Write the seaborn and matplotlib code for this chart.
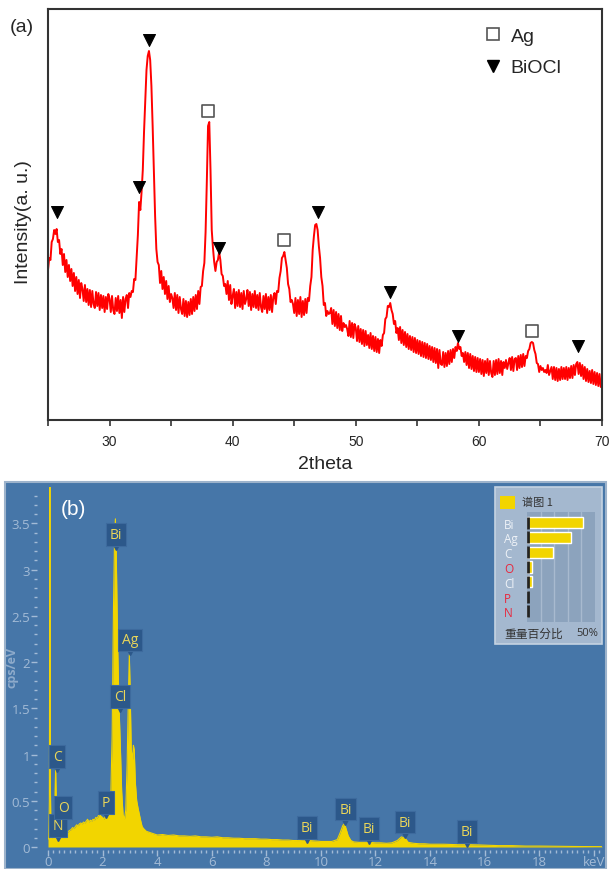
import numpy as np
import pandas as pd
import matplotlib
matplotlib.use('Agg')
import matplotlib.pyplot as plt
import matplotlib.transforms as mtransforms
from matplotlib.patches import Rectangle
from matplotlib.lines import Line2D
import seaborn as sns

# ---- (a) XRD pattern: 0.1 deg steps starting at 25 deg, one row per degree
xrd_start = 25.0
xrd_step = 0.1
xrd_rows = [
    [150, 162, 160, 178, 181, 190, 186, 191, 178, 180],  # 25
    [166, 171, 155, 166, 148, 160, 143, 155, 139, 151],  # 26
    [134, 147, 129, 143, 126, 140, 122, 137, 131, 119],  # 27
    [135, 118, 131, 115, 130, 113, 129, 116, 112, 128],  # 28
    [114, 127, 110, 125, 112, 124, 108, 123, 111, 126],  # 29
    [121, 108, 124, 110, 106, 122, 109, 124, 107, 120],  # 30
    [102, 123, 108, 121, 125, 112, 127, 123, 129, 128],  # 31
    [141, 140, 163, 185, 218, 210, 228, 250, 288, 320],  # 32
    [350, 364, 369, 360, 334, 294, 248, 204, 171, 158],  # 33
    [155, 137, 149, 131, 143, 126, 139, 121, 134, 118],  # 34
    [126, 122, 112, 127, 110, 125, 107, 123, 111, 106],  # 35
    [121, 104, 119, 103, 118, 105, 121, 106, 123, 109],  # 36
    [125, 111, 129, 116, 133, 134, 149, 157, 188, 238],  # 37
    [294, 298, 250, 190, 172, 158, 149, 158, 160, 168],  # 38
    [160, 146, 144, 134, 136, 126, 139, 120, 135, 116],  # 39
    [124, 131, 112, 128, 114, 130, 113, 127, 111, 129],  # 40
    [116, 121, 130, 114, 128, 110, 126, 113, 129, 112],  # 41
    [125, 110, 127, 113, 108, 124, 111, 126, 107, 123],  # 42
    [110, 125, 108, 123, 127, 116, 129, 128, 142, 149],  # 43
    [162, 164, 168, 160, 152, 136, 131, 118, 120, 116],  # 44
    [107, 122, 104, 120, 106, 123, 103, 119, 105, 121],  # 45
    [107, 122, 119, 134, 143, 170, 184, 195, 196, 190],  # 46
    [174, 162, 143, 134, 115, 117, 104, 109, 106, 107],  # 47
    [112, 96, 110, 94, 108, 92, 106, 90, 104, 89],       # 48
    [97, 93, 95, 91, 84, 99, 83, 97, 82, 96],            # 49
    [92, 79, 94, 78, 91, 76, 90, 74, 89, 75],            # 50
    [85, 72, 87, 71, 84, 69, 83, 68, 81, 67],            # 51
    [80, 74, 85, 87, 101, 103, 114, 113, 117, 110],      # 52
    [106, 96, 99, 87, 92, 80, 93, 77, 90, 75],           # 53
    [88, 73, 86, 71, 84, 70, 83, 68, 82, 67],            # 54
    [80, 66, 79, 64, 78, 63, 77, 62, 76, 61],            # 55
    [74, 60, 73, 58, 72, 57, 71, 52, 70, 56],            # 56
    [55, 68, 53, 67, 54, 69, 56, 70, 58, 71],            # 57
    [62, 73, 69, 77, 71, 73, 64, 67, 58, 68],            # 58
    [55, 67, 52, 66, 51, 64, 49, 63, 48, 62],            # 59
    [48, 61, 46, 60, 44, 59, 47, 61, 45, 59],            # 60
    [47, 43, 59, 45, 60, 46, 61, 47, 59, 45],            # 61
    [58, 52, 60, 51, 57, 62, 50, 63, 49, 61],            # 62
    [62, 50, 64, 52, 65, 53, 66, 54, 64, 62],            # 63
    [69, 71, 77, 78, 77, 70, 66, 57, 56, 48],            # 64
    [54, 50, 52, 48, 50, 47, 55, 45, 49, 53],            # 65
    [41, 53, 40, 52, 39, 51, 40, 53, 41, 52],            # 66
    [41, 53, 40, 52, 42, 54, 42, 55, 45, 56],            # 67
    [58, 46, 57, 44, 55, 41, 53, 39, 51, 38],            # 68
    [49, 37, 50, 36, 48, 35, 47, 34, 46, 33],            # 69
]
xrd_last = [38]  # 70.0

biocl_pos = [25.7, 32.4, 33.2, 38.9, 46.95, 52.75, 58.3, 68.05]
biocl_mark = [208, 233, 380, 172, 208, 128, 84, 74]
ag_pos = [38.0, 44.2, 64.35]
ag_mark = [309, 180, 89]

# ---- (b) EDS spectrum
eds_energy = [0.00, 0.03, 0.05, 0.06, 0.07, 0.08, 0.09, 0.11, 0.15, 0.20,
              0.24, 0.26, 0.28, 0.30, 0.32, 0.36, 0.40, 0.45, 0.50, 0.55,
              0.60, 0.65, 0.70, 0.75, 0.80, 0.85, 0.90, 0.95, 1.00, 1.05,
              1.10, 1.15, 1.20, 1.25, 1.30, 1.35, 1.40, 1.45, 1.50, 1.55,
              1.60, 1.65, 1.70, 1.75, 1.80, 1.85, 1.90, 1.95, 2.00, 2.05,
              2.10, 2.15, 2.20, 2.25, 2.30, 2.35, 2.40, 2.44, 2.47, 2.50,
              2.55, 2.60, 2.65, 2.70, 2.75, 2.80, 2.85, 2.90, 2.95, 2.98,
              3.01, 3.05, 3.10, 3.13, 3.16, 3.20, 3.25, 3.30, 3.35, 3.40,
              3.45, 3.50, 3.60, 3.70, 3.80, 3.90, 4.00, 4.20, 4.40, 4.60,
              4.80, 5.00, 5.20, 5.40, 5.60, 5.80, 6.00, 6.20, 6.40, 6.60,
              6.80, 7.00, 7.20, 7.40, 7.60, 7.80, 8.00, 8.20, 8.40, 8.60,
              8.80, 9.00, 9.20, 9.40, 9.60, 9.80, 10.00, 10.20, 10.40, 10.60,
              10.70, 10.80, 10.85, 10.90, 11.00, 11.10, 11.20, 11.40, 11.60, 11.80,
              12.00, 12.20, 12.40, 12.60, 12.80, 12.95, 13.10, 13.20, 13.40, 13.60,
              13.80, 14.00, 14.50, 15.00, 15.50, 16.00, 16.50, 17.00, 17.50, 18.00,
              18.50, 19.00, 19.50, 20.00, 20.30]
eds_cps = [0.08, 0.10, 0.50, 2.50, 3.95, 2.40, 0.60, 0.12, 0.10, 0.11,
           0.20, 0.60, 0.85, 0.55, 0.18, 0.10, 0.09, 0.10, 0.11, 0.12,
           0.11, 0.13, 0.15, 0.17, 0.18, 0.19, 0.21, 0.20, 0.22, 0.24,
           0.23, 0.25, 0.26, 0.25, 0.27, 0.26, 0.28, 0.30, 0.27, 0.29,
           0.28, 0.30, 0.29, 0.32, 0.31, 0.34, 0.35, 0.33, 0.32, 0.30,
           0.33, 0.36, 0.35, 0.40, 0.55, 1.20, 2.60, 3.35, 3.55, 3.20,
           2.20, 1.55, 1.10, 0.60, 0.35, 0.30, 0.40, 0.90, 1.70, 2.08,
           1.70, 1.05, 0.95, 1.10, 1.05, 0.70, 0.50, 0.42, 0.35, 0.28,
           0.22, 0.20, 0.17, 0.16, 0.15, 0.14, 0.13, 0.135, 0.125, 0.13,
           0.12, 0.12, 0.115, 0.12, 0.11, 0.11, 0.105, 0.11, 0.10, 0.10,
           0.095, 0.095, 0.09, 0.09, 0.09, 0.085, 0.085, 0.08, 0.08, 0.075,
           0.075, 0.07, 0.07, 0.075, 0.07, 0.065, 0.06, 0.06, 0.06, 0.08,
           0.15, 0.23, 0.25, 0.22, 0.12, 0.07, 0.055, 0.05, 0.05, 0.05,
           0.045, 0.045, 0.04, 0.045, 0.07, 0.11, 0.09, 0.05, 0.04, 0.035,
           0.035, 0.03, 0.03, 0.025, 0.025, 0.02, 0.015, 0.015, 0.01, 0.01,
           0.008, 0.006, 0.005, 0.004, 0.004]

tag_labels = ['C', 'N', 'O', 'P', 'Bi', 'Cl', 'Ag', 'Bi', 'Bi', 'Bi', 'Bi', 'Bi']
tag_energy = [0.33, 0.37, 0.55, 2.12, 2.49, 2.64, 3.00, 9.49, 10.90, 11.76, 13.08, 15.35]
tag_cps = [0.98, 0.23, 0.43, 0.48, 3.38, 1.63, 2.24, 0.215, 0.41, 0.20, 0.27, 0.17]

comp_elements = ['Bi', 'Ag', 'C', 'O', 'Cl', 'P', 'N']
comp_wt = [41, 32, 19, 3.4, 3.4, 0, 0]
comp_label_colors = ['#eef2f7', '#eef2f7', '#eef2f7', '#e8263c', '#eef2f7', '#e8263c', '#e8263c']

sns.set_style('ticks')
plt.rcParams['font.family'] = ['Liberation Sans', 'Noto Sans CJK SC', 'DejaVu Sans']

W, H = 611, 870
fig = plt.figure(figsize=(W / 100, H / 100), dpi=100)


def fbox(x0, y0, x1, y1):
    # pixel box (top-left origin) -> figure fraction rect
    return [x0 / W, 1 - y1 / H, (x1 - x0) / W, (y1 - y0) / H]


# ================= (a) =================
ax1 = fig.add_axes(fbox(48, 10, 602, 421))
counts = [v for row in xrd_rows for v in row] + xrd_last
xrd = pd.DataFrame({'two_theta': xrd_start + xrd_step * np.arange(len(counts)),
                    'intensity': counts})
sns.lineplot(data=xrd, x='two_theta', y='intensity', color='#ff0000', lw=1.4, ax=ax1)
sns.scatterplot(x=biocl_pos, y=biocl_mark, marker='v', s=75, color='black',
                edgecolor='black', ax=ax1, zorder=5)
sns.scatterplot(x=ag_pos, y=ag_mark, marker='s', s=85, color='white',
                edgecolor='#555555', linewidth=1.2, ax=ax1, zorder=5)

ax1.set_xlim(25, 70)
ax1.set_ylim(0, 411)
ax1.set_yticks([])
ax1.set_xticks([30, 40, 50, 60, 70])
ax1.set_xticks([25, 35, 45, 55, 65], minor=True)
ax1.tick_params(axis='x', which='both', direction='out', length=4, width=1.2,
                color='#333333', labelsize=10, pad=6)
for sp in ax1.spines.values():
    sp.set_visible(True)
    sp.set_color('#333333')
    sp.set_linewidth(1.5)
ax1.set_xlabel('2theta', fontsize=14, labelpad=5)
ax1.set_ylabel('Intensity(a. u.)', fontsize=14)
ax1.yaxis.set_label_coords(-0.029, 0.484)

handles = [Line2D([], [], marker='s', ls='', mfc='white', mec='#555555', mew=1.2, ms=9),
           Line2D([], [], marker='v', ls='', color='black', ms=9)]
ax1.legend(handles, ['Ag', 'BiOCl'], loc='upper left', bbox_to_anchor=(0.786, 0.955),
           frameon=False, fontsize=14, handletextpad=0.4, handlelength=1,
           labelspacing=0.7, borderpad=0, borderaxespad=0)
fig.text(22 / W, 1 - 28 / H, '(a)', fontsize=14, ha='center', va='center')

# ================= (b) =================
bg = Rectangle((5 / W, 0), 601 / W, 387 / H, transform=fig.transFigure,
               fc='#4676a8', ec='#9db3cb', lw=1.5, zorder=-1)
fig.add_artist(bg)

pale = '#a3bbd6'
ax2 = fig.add_axes([48 / W, 22 / H, 554 / W, 360.5 / H])
ax2.patch.set_alpha(0)
sns.lineplot(x=eds_energy, y=eds_cps, sort=False, color='#f2d500', lw=0.8, ax=ax2)
ax2.fill_between(eds_energy, eds_cps, color='#f2d500', lw=0)
ax2.set_xlim(0, 20.3)
ax2.set_ylim(0, 3.9)
for sp in ax2.spines.values():
    sp.set_visible(False)
ax2.spines['left'].set_position(('outward', 8))
ax2.spines['bottom'].set_position(('outward', 2))
ax2.set_yticks([0, 0.5, 1, 1.5, 2, 2.5, 3, 3.5])
ax2.set_yticklabels(['0', '0.5', '1', '1.5', '2', '2.5', '3', '3.5'])
ax2.set_yticks(np.arange(0, 3.9, 0.1), minor=True)
ax2.set_xticks([0, 2, 4, 6, 8, 10, 12, 14, 16, 18, 20])
ax2.set_xticklabels(['0', '2', '4', '6', '8', '10', '12', '14', '16', '18', 'keV'])
ax2.set_xticks(np.arange(0, 20.3, 0.2), minor=True)
ax2.tick_params(which='major', color=pale, labelcolor=pale, labelsize=9.5,
                length=4, width=1, pad=1)
ax2.tick_params(axis='x', which='major', pad=0)
ax2.tick_params(which='minor', color=pale, length=2.5, width=1)
for lab in ax2.get_xticklabels() + ax2.get_yticklabels():
    lab.set_family(['Open Sans', 'DejaVu Sans'])
ax2.set_ylabel('cps/eV', color='#8eabcb', fontsize=9, fontweight='bold',
               family=['Open Sans', 'DejaVu Sans'])
ax2.yaxis.set_label_coords(-0.054, 0.5)

ptr = mtransforms.offset_copy(ax2.transData, fig=fig, y=-11.5, units='dots')
for lab, e, c in zip(tag_labels, tag_energy, tag_cps):
    ax2.text(e, c, lab, ha='center', va='center', fontsize=10, color='#ead65a',
             family=['Open Sans', 'DejaVu Sans'], zorder=6,
             bbox=dict(boxstyle='square,pad=0.28', fc='#2c588a', ec='#3d6a9d', lw=0.8))
    ax2.plot(e, c, marker='v', ms=6, color='#2c588a', transform=ptr, zorder=5)

fig.text(73 / W, 1 - 510 / H, '(b)', fontsize=15, color='white', ha='center', va='center')

# composition box
panel = Rectangle((495 / W, 1 - 645 / H), 107 / W, 157 / H, transform=fig.transFigure,
                  fc='#a4b8cf', ec='#c5d3e2', lw=1.2, zorder=1)
fig.add_artist(panel)
swatch = Rectangle((500 / W, 1 - 510 / H), 15 / W, 13 / H, transform=fig.transFigure,
                   fc='#f2d500', ec='none', zorder=2)
fig.add_artist(swatch)
fig.text(522 / W, 1 - 503 / H, '谱图 1', fontsize=8, color='#333333', va='center',
         family=['Noto Sans CJK SC', 'DejaVu Sans'], zorder=3)
fig.text(504 / W, 1 - 634 / H, '重量百分比', fontsize=8.5, color='#333333', va='center',
         family=['Noto Sans CJK SC', 'DejaVu Sans'], zorder=3)
fig.text(598 / W, 1 - 634 / H, '50%', fontsize=8, color='#333333', va='center', ha='right',
         family=['Open Sans', 'DejaVu Sans'], zorder=3)

ax3 = fig.add_axes(fbox(527, 513, 595, 623))
ax3.set_zorder(3)
ax3.set_facecolor('#8ca3bd')
sns.barplot(x=comp_wt, y=comp_elements, color='#f2d500', saturation=1, width=0.75,
            orient='h', ax=ax3, zorder=3)
sns.scatterplot(x=[0.6] * len(comp_elements), y=comp_elements, marker='|', s=80,
                color='#222222', linewidth=2, ax=ax3, zorder=4)
ax3.set_xlim(0, 50)
ax3.set_xticks([10, 20, 30, 40])
ax3.grid(axis='x', color='#a8bacf', lw=1)
ax3.set_axisbelow(True)
ax3.tick_params(axis='x', length=0, labelbottom=False)
ax3.tick_params(axis='y', length=0, pad=16.5, labelsize=8.5)
for lab, col in zip(ax3.get_yticklabels(), comp_label_colors):
    lab.set_color(col)
    lab.set_ha('left')
    lab.set_family(['Open Sans', 'DejaVu Sans'])
ax3.set_xlabel('')
ax3.set_ylabel('')
for sp in ax3.spines.values():
    sp.set_visible(False)

fig.savefig('out.png', dpi=100)
